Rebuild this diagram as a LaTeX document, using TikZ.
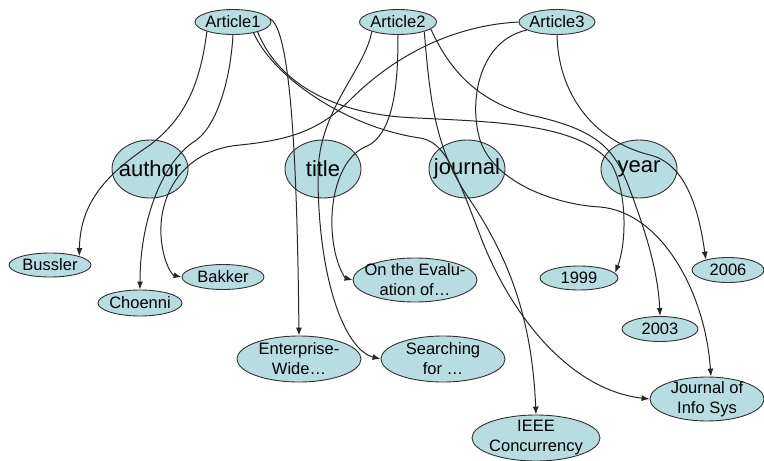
\documentclass[tikz,border=0pt]{standalone}
\usepackage{fontspec}
\setmainfont{Liberation Sans}
\usetikzlibrary{shapes.geometric,arrows.meta}
\definecolor{nodefill}{RGB}{183,221,224}
\definecolor{nodeline}{RGB}{50,50,50}
\begin{document}
\begin{tikzpicture}[x=1pt,y=-1pt,
  ent/.style={ellipse,draw=nodeline,fill=nodefill,inner sep=0pt,line width=0.9pt},
  txt/.style={font=\fontsize{16.5}{20}\selectfont,align=center,inner sep=0pt,text=black},
  bigtxt/.style={font=\fontsize{22}{26}\selectfont,inner sep=0pt,text=black},
  arr/.style={-{Latex[length=8pt,width=6pt]},line width=1pt,draw=black!85}]
\useasboundingbox (0,0) rectangle (764,461);
% articles
\node[ent,minimum width=76,minimum height=25,label={[txt]center:Article1}] (A1) at (233,22) {};
\node[ent,minimum width=77,minimum height=25,label={[txt]center:Article2}] (A2) at (398,22) {};
\node[ent,minimum width=76,minimum height=25,label={[txt]center:Article3}] (A3) at (557,22) {};
% attributes
\node[ent,minimum width=76,minimum height=58,label={[bigtxt]center:author}] (au) at (150,169) {};
\node[ent,minimum width=76,minimum height=58,label={[bigtxt]center:title}] (ti) at (323,169) {};
\node[ent,minimum width=76,minimum height=58,label={[bigtxt]center:journal}] (jo) at (467,169) {};
\node[ent,minimum width=76,minimum height=58,label={[bigtxt]center:year}] (ye) at (639,169) {};
% values
\node[ent,minimum width=82,minimum height=24,label={[txt]center:Bussler}] (bu) at (50,265) {};
\node[ent,minimum width=84,minimum height=26,label={[txt]center:Choenni}] (ch) at (140,303) {};
\node[ent,minimum width=82,minimum height=25,label={[txt]center:Bakker}] (ba) at (223,277) {};
\node[ent,minimum width=124,minimum height=44,label={[txt]center:{On the Evalu-\\ation of…}}] (ev) at (415,280) {};
\node[ent,minimum width=78,minimum height=24,label={[txt]center:1999}] (y99) at (579,278) {};
\node[ent,minimum width=72,minimum height=25,label={[txt]center:2006}] (y06) at (728,270) {};
\node[ent,minimum width=76,minimum height=25,label={[txt]center:2003}] (y03) at (660,329) {};
\node[ent,minimum width=124,minimum height=46,label={[txt]center:{Enterprise-\\Wide…}}] (en) at (299,359) {};
\node[ent,minimum width=124,minimum height=46,label={[txt]center:{Searching\\for …}}] (se) at (443,359) {};
\node[ent,minimum width=128,minimum height=46,label={[txt]center:{IEEE\\Concurrency}}] (ie) at (536,438) {};
\node[ent,minimum width=114,minimum height=44,label={[txt]center:{Journal of\\Info Sys}}] (ji) at (707,399) {};
% connectors
\draw[arr] (A1.200) .. controls (200,85) and (185,118) .. (150,145) .. controls (110,172) and (80,200) .. (bu.north east);
\draw[arr] (A1.south) .. controls (230,85) and (215,128) .. (195,141) .. controls (165,160) and (140,215) .. (ch.north);
\draw[arr] (A1.5) .. controls (290,30) and (297,150) .. (en.north);
\draw[arr] (A1.-22) .. controls (275,75) and (320,110) .. (400,117) .. controls (480,122) and (580,120) .. (612,165) .. controls (628,195) and (626,245) .. (y99.8);
\draw[arr] (A1.-28) .. controls (275,80) and (350,128) .. (420,138) .. controls (445,142) and (455,170) .. (480,235) .. controls (510,315) and (570,390) .. (ji.west);
\draw[arr] (A2.200) .. controls (365,70) and (318,110) .. (318,175) .. controls (318,280) and (345,350) .. (se.west);
\draw[arr] (A2.south) .. controls (398,80) and (395,135) .. (365,147) .. controls (340,158) and (328,200) .. (333,240) .. controls (336,265) and (345,278) .. (ev.west);
\draw[arr] (A2.-20) .. controls (430,100) and (435,150) .. (470,200) .. controls (510,260) and (532,320) .. (ie.north);
\draw[arr] (A2.-12) .. controls (445,60) and (470,100) .. (530,115) .. controls (600,130) and (615,150) .. (630,190) .. controls (645,230) and (658,270) .. (y03.north);
\draw[arr] (A3.west) .. controls (460,25) and (400,50) .. (350,100) .. controls (320,130) and (290,140) .. (240,145) .. controls (180,150) and (155,200) .. (162,245) .. controls (165,265) and (172,275) .. (ba.west);
\draw[arr] (A3.195) .. controls (480,40) and (468,100) .. (480,140) .. controls (495,185) and (560,205) .. (600,207) .. controls (660,212) and (705,290) .. (ji.80);
\draw[arr] (A3.south) .. controls (558,90) and (590,140) .. (650,155) .. controls (690,165) and (700,220) .. (y06.155);
\end{tikzpicture}
\end{document}
